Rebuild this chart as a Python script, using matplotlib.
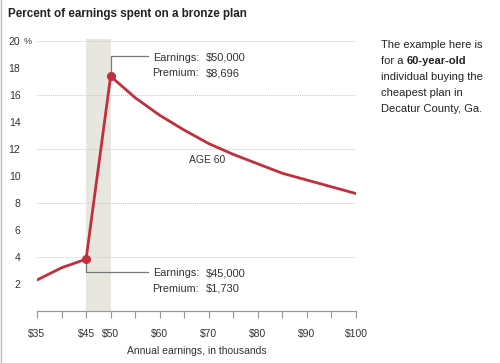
import matplotlib
matplotlib.use("Agg")
import matplotlib.pyplot as plt
from matplotlib.ticker import MultipleLocator

plt.rcParams['font.family'] = ['Liberation Sans', 'DejaVu Sans']

# Annual earnings (thousands of $) and percent of earnings spent on premium
earnings = [35, 40, 45, 50, 55, 60, 65, 70, 75, 80, 85, 90, 95, 100]
percent = [2.3, 3.2, 3.84, 17.39, 15.8, 14.5, 13.4, 12.4, 11.6, 10.9, 10.2, 9.7, 9.2, 8.7]

x_ticks = [35, 45, 50, 60, 70, 80, 90, 100]
x_labels = ['$35', '$45', '$50', '$60', '$70', '$80', '$90', '$100']
y_ticks = [2, 4, 6, 8, 10, 12, 14, 16, 18, 20]
grid_y = [4, 8, 12, 16, 20]

band = (45, 50)
callout_hi = {'x': 50, 'y': 17.39, 'earn': '$50,000', 'prem': '$8,696'}
callout_lo = {'x': 45, 'y': 3.84, 'earn': '$45,000', 'prem': '$1,730'}

red = '#c22f3b'
txt = '#333333'

fig = plt.figure(figsize=(5.0, 3.63), dpi=100)
ax = fig.add_axes([0.074, 0.1433, 0.638, 0.7493])
ax.set_xlim(35, 100)
ax.set_ylim(0, 20.15)

ax.axvspan(band[0], band[1], color='#e8e7df', zorder=0, lw=0)
for g in grid_y:
    ax.axhline(g, color='#c8c8c8', lw=0.7, ls=(0, (1, 1)), zorder=1)

ax.plot(earnings, percent, color=red, lw=2, zorder=3, solid_capstyle='round')
ax.plot([callout_lo['x'], callout_hi['x']], [callout_lo['y'], callout_hi['y']],
        'o', color=red, ms=5.5, zorder=4)

# callout leader lines
ax.plot([callout_hi['x'], callout_hi['x'], 57.7], [callout_hi['y'], 18.9, 18.9],
        color='#777777', lw=0.9, zorder=2)
ax.plot([callout_lo['x'], callout_lo['x'], 57.7], [callout_lo['y'], 2.9, 2.9],
        color='#777777', lw=0.9, zorder=2)

for c, ytop in [(callout_hi, 18.75), (callout_lo, 2.8)]:
    ax.text(68.0, ytop, 'Earnings:', ha='right', va='center', fontsize=7.8, color=txt)
    ax.text(69.4, ytop, c['earn'], ha='left', va='center', fontsize=8, color=txt)
    ax.text(68.0, ytop - 1.15, 'Premium:', ha='right', va='center', fontsize=7.8, color=txt)
    ax.text(69.4, ytop - 1.15, c['prem'], ha='left', va='center', fontsize=8, color=txt)

ax.text(69.7, 11.2, 'AGE 60', ha='center', va='center', fontsize=7.5, color=txt)

for s in ['top', 'right', 'left']:
    ax.spines[s].set_visible(False)
ax.spines['bottom'].set_color('#999999')
ax.spines['bottom'].set_linewidth(0.9)

ax.set_xticks(x_ticks)
ax.set_xticklabels(x_labels)
ax.xaxis.set_minor_locator(MultipleLocator(5))
ax.tick_params(axis='x', which='both', direction='out', length=5, width=0.8,
               color='#999999', labelsize=7.5, labelcolor=txt, pad=8)
ax.set_yticks(y_ticks)
ax.set_yticklabels([str(v) for v in y_ticks])
ax.tick_params(axis='y', length=0, pad=12, labelsize=7.5, labelcolor=txt)
ax.text(-0.043, 20, '%', transform=ax.get_yaxis_transform(), ha='left', va='center',
        fontsize=6.5, color=txt)

ax.set_xlabel('Annual earnings, in thousands', fontsize=7.5, color=txt, labelpad=5)

fig.text(0.016, 0.962, 'Percent of earnings spent on a bronze plan', fontsize=8.4,
         fontweight='bold', color='#222222', va='center')

# side note
note_x = 0.762
note_fs = 8
lines = [0.877, 0.831, 0.787, 0.743, 0.699]
fig.text(note_x, lines[0], 'The example here is', fontsize=note_fs, color='#222222', va='center')
t = fig.text(note_x, lines[1], 'for a ', fontsize=note_fs, color='#222222', va='center')
fig.canvas.draw()
bb = t.get_window_extent()
fig.text(bb.x1 / fig.bbox.width, lines[1], '60-year-old', fontsize=note_fs,
         color='#222222', va='center', fontweight='bold')
fig.text(note_x, lines[2], 'individual buying the', fontsize=note_fs, color='#222222', va='center')
fig.text(note_x, lines[3], 'cheapest plan in', fontsize=note_fs, color='#222222', va='center')
fig.text(note_x, lines[4], 'Decatur County, Ga.', fontsize=note_fs, color='#222222', va='center')

fig.add_artist(plt.Line2D([0.001, 0.001], [0, 1], color='#bbbbbb', lw=1))

fig.savefig('out.png', dpi=100)
